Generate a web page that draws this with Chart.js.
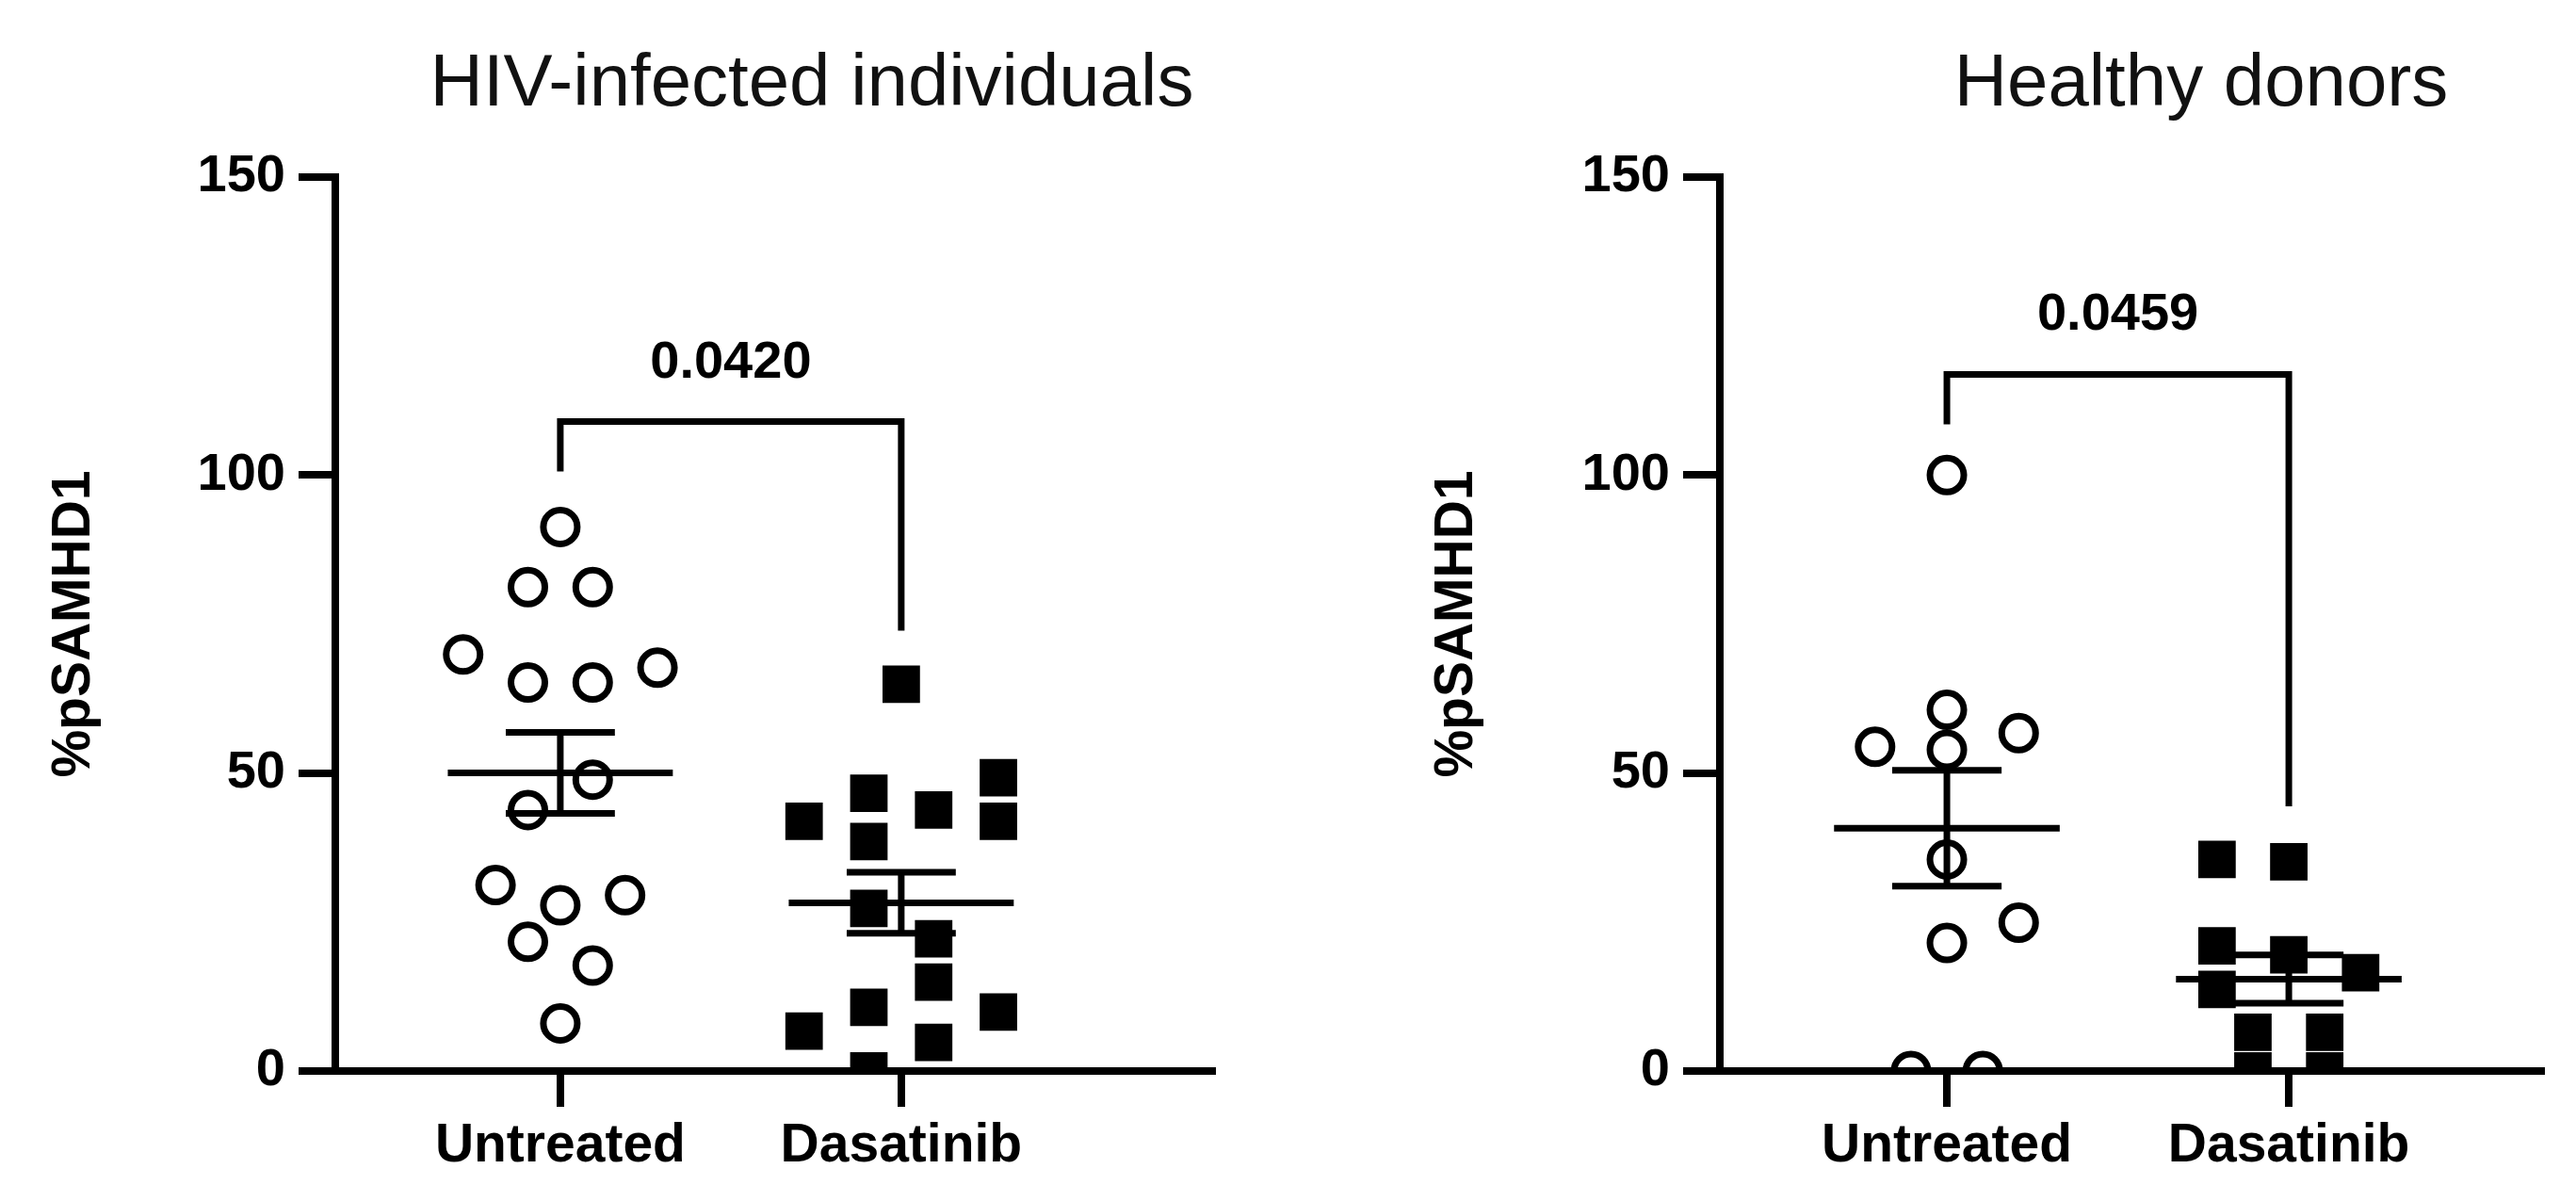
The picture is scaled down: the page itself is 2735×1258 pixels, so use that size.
<!DOCTYPE html>
<html>
<head>
<meta charset="utf-8">
<script src="https://cdn.jsdelivr.net/npm/chart.js@4.4.0/dist/chart.umd.min.js"></script>
<style>
html, body { margin: 0; padding: 0; background: #fff; }
#wrap { position: relative; width: 2735px; height: 1258px; }
.panel { position: absolute; top: 0; height: 1258px; }
#left { left: 0; width: 1420px; }
#right { left: 1420px; width: 1315px; }
</style>
</head>
<body>
<div id="wrap">
  <div class="panel" id="left"><canvas id="hiv-chart"></canvas></div>
  <div class="panel" id="right"><canvas id="healthy-chart"></canvas></div>
</div>
<script>
var groups = ['Untreated', 'Dasatinib'];
var yTicks = [0, 50, 100, 150];

// HIV-infected individuals (%pSAMHD1), column = horizontal scatter slot
var hivUntreated = [91.3, 81.2, 81.2, 69.9, 67.7, 65.2, 65.2, 48.9, 43.8, 31.2, 29.5, 27.8, 21.7, 17.7, 8.0];
var hivUntreatedCol = [0, -1, 1, -3, 3, -1, 1, 1, -1, -2, 2, 0, -1, 1, 0];
var hivDasatinib = [64.9, 49.2, 46.6, 43.8, 41.9, 41.9, 38.5, 27.3, 22.2, 14.9, 10.7, 9.9, 6.7, 4.8, 0];
var hivDasatinibCol = [0, 3, -1, 1, -3, 3, -1, -1, 1, 1, -1, 3, -3, 1, -1];
var hivBracket = [100.6, 109, 73.9];
var hivP = '0.0420';
var hivPY = 118.8;

// Healthy donors
var hdUntreated = [100, 60.6, 56.7, 54.4, 53.9, 35.5, 24.9, 21.5, 0, 0];
var hdUntreatedCol = [0, 0, 2, -2, 0, 0, 2, 0, -1, 1];
var hdDasatinib = [35.5, 35.1, 21.0, 19.5, 16.5, 13.7, 6.5, 6.5, 0, 0];
var hdDasatinibCol = [-2, 0, -2, 0, 2, -2, -1, 1, -1, 1];
var hdBracket = [108.5, 116.9, 44.4];
var hdP = '0.0459';
var hdPY = 126.9;

Chart.defaults.font.family = '"Liberation Sans", Arial, sans-serif';
Chart.defaults.color = '#000';

function meanSem(arr) {
    var n = arr.length;
    var m = arr.reduce(function (a, b) { return a + b; }, 0) / n;
    var ss = arr.reduce(function (a, b) { return a + (b - m) * (b - m); }, 0);
    return [m, Math.sqrt(ss / (n - 1)) / Math.sqrt(n)];
}

function errorBar(x, arr) {
    var ms = meanSem(arr), m = ms[0], s = ms[1];
    return [
        {x: x - 0.33, y: m}, {x: x + 0.33, y: m}, {x: x, y: null},
        {x: x, y: m - s}, {x: x, y: m + s}, {x: x, y: null},
        {x: x - 0.16, y: m + s}, {x: x + 0.16, y: m + s}, {x: x, y: null},
        {x: x - 0.16, y: m - s}, {x: x + 0.16, y: m - s}
    ];
}

function scatterPts(x, vals, cols, step) {
    return vals.map(function (v, i) { return {x: x + cols[i] * step, y: v}; });
}

var panelText = {
    id: 'panelText',
    afterDraw: function (chart, args, opts) {
        var c = chart.ctx, xs = chart.scales.x, ys = chart.scales.y;
        c.save();
        c.fillStyle = '#111';
        c.textAlign = 'center';
        c.textBaseline = 'alphabetic';
        c.font = '78px "Liberation Sans", Arial, sans-serif';
        c.fillText(opts.title, opts.titleX, 112);
        c.fillStyle = '#000';
        c.textBaseline = 'middle';
        c.font = 'bold 56px "Liberation Sans", Arial, sans-serif';
        c.fillText(opts.p, xs.getPixelForValue(1.5), ys.getPixelForValue(opts.pY));
        c.restore();
    }
};

function makeChart(id, d) {
    var ctx = document.getElementById(id).getContext('2d');
    var lineStyle = {type: 'line', showLine: true, borderColor: '#000', borderWidth: 7,
        pointRadius: 0, fill: false, spanGaps: false, borderJoinStyle: 'miter'};
    return new Chart(ctx, {
        type: 'scatter',
        plugins: [panelText],
        data: {
            datasets: [
                Object.assign({data: [{x: 1, y: d.bracket[0]}, {x: 1, y: d.bracket[1]},
                    {x: 2, y: d.bracket[1]}, {x: 2, y: d.bracket[2]}]}, lineStyle),
                Object.assign({data: errorBar(1, d.untreated).concat([{x: 1.5, y: null}], errorBar(2, d.dasatinib))}, lineStyle),
                {
                    label: groups[0],
                    data: scatterPts(1, d.untreated, d.untreatedCol, d.step),
                    pointStyle: 'circle', pointRadius: 18, pointHoverRadius: 18, borderWidth: 7,
                    borderColor: '#000', backgroundColor: 'rgba(0,0,0,0)'
                },
                {
                    label: groups[1],
                    data: scatterPts(2, d.dasatinib, d.dasatinibCol, d.step),
                    pointStyle: 'rect', pointRadius: 26, pointHoverRadius: 26, borderWidth: 3,
                    borderColor: '#000', backgroundColor: '#000'
                }
            ]
        },
        options: {
            responsive: true,
            maintainAspectRatio: false,
            animation: false,
            devicePixelRatio: 1,
            layout: {padding: {top: 188, right: d.padRight, bottom: 0, left: 0}},
            plugins: {
                legend: {display: false},
                tooltip: {enabled: false},
                panelText: {title: d.title, titleX: d.titleX, p: d.p, pY: d.pY}
            },
            scales: {
                x: {
                    type: 'linear',
                    min: d.xMin,
                    max: d.xMax,
                    afterBuildTicks: function (s) { s.ticks = groups.map(function (g, i) { return {value: i + 1}; }); },
                    afterFit: function (s) { s.height = 121; },
                    ticks: {
                        callback: function (v) { return groups[Math.round(v) - 1]; },
                        font: {size: 57, weight: 'bold'}, color: '#000', padding: 8, maxRotation: 0
                    },
                    grid: {drawOnChartArea: false, drawTicks: true, tickLength: 38, color: '#000', lineWidth: 8},
                    border: {display: true, color: '#000', width: 8}
                },
                y: {
                    min: yTicks[0],
                    max: yTicks[yTicks.length - 1],
                    afterBuildTicks: function (s) { s.ticks = yTicks.map(function (v) { return {value: v}; }); },
                    afterFit: function (s) { s.width = d.yWidth; },
                    ticks: {font: {size: 56, weight: 'bold'}, color: '#000', padding: 14},
                    grid: {drawOnChartArea: false, drawTicks: true, tickLength: 39, color: '#000', lineWidth: 8},
                    border: {display: true, color: '#000', width: 8},
                    title: {
                        display: true, text: '%pSAMHD1', color: '#000',
                        font: {size: 57, weight: 'bold'}, padding: {top: d.titlePad, bottom: 0}
                    }
                }
            }
        }
    });
}

makeChart('hiv-chart', {
    title: 'HIV-infected individuals', titleX: 862,
    untreated: hivUntreated, untreatedCol: hivUntreatedCol,
    dasatinib: hivDasatinib, dasatinibCol: hivDasatinibCol, step: 0.095,
    bracket: hivBracket, p: hivP, pY: hivPY,
    xMin: 0.34, xMax: 2.912, padRight: 133, yWidth: 356, titlePad: 45
});

makeChart('healthy-chart', {
    title: 'Healthy donors', titleX: 917,
    untreated: hdUntreated, untreatedCol: hdUntreatedCol,
    dasatinib: hdDasatinib, dasatinibCol: hdDasatinibCol, step: 0.105,
    bracket: hdBracket, p: hdP, pY: hdPY,
    xMin: 0.336, xMax: 2.738, padRight: 37, yWidth: 406, titlePad: 93
});
</script>
</body>
</html>
